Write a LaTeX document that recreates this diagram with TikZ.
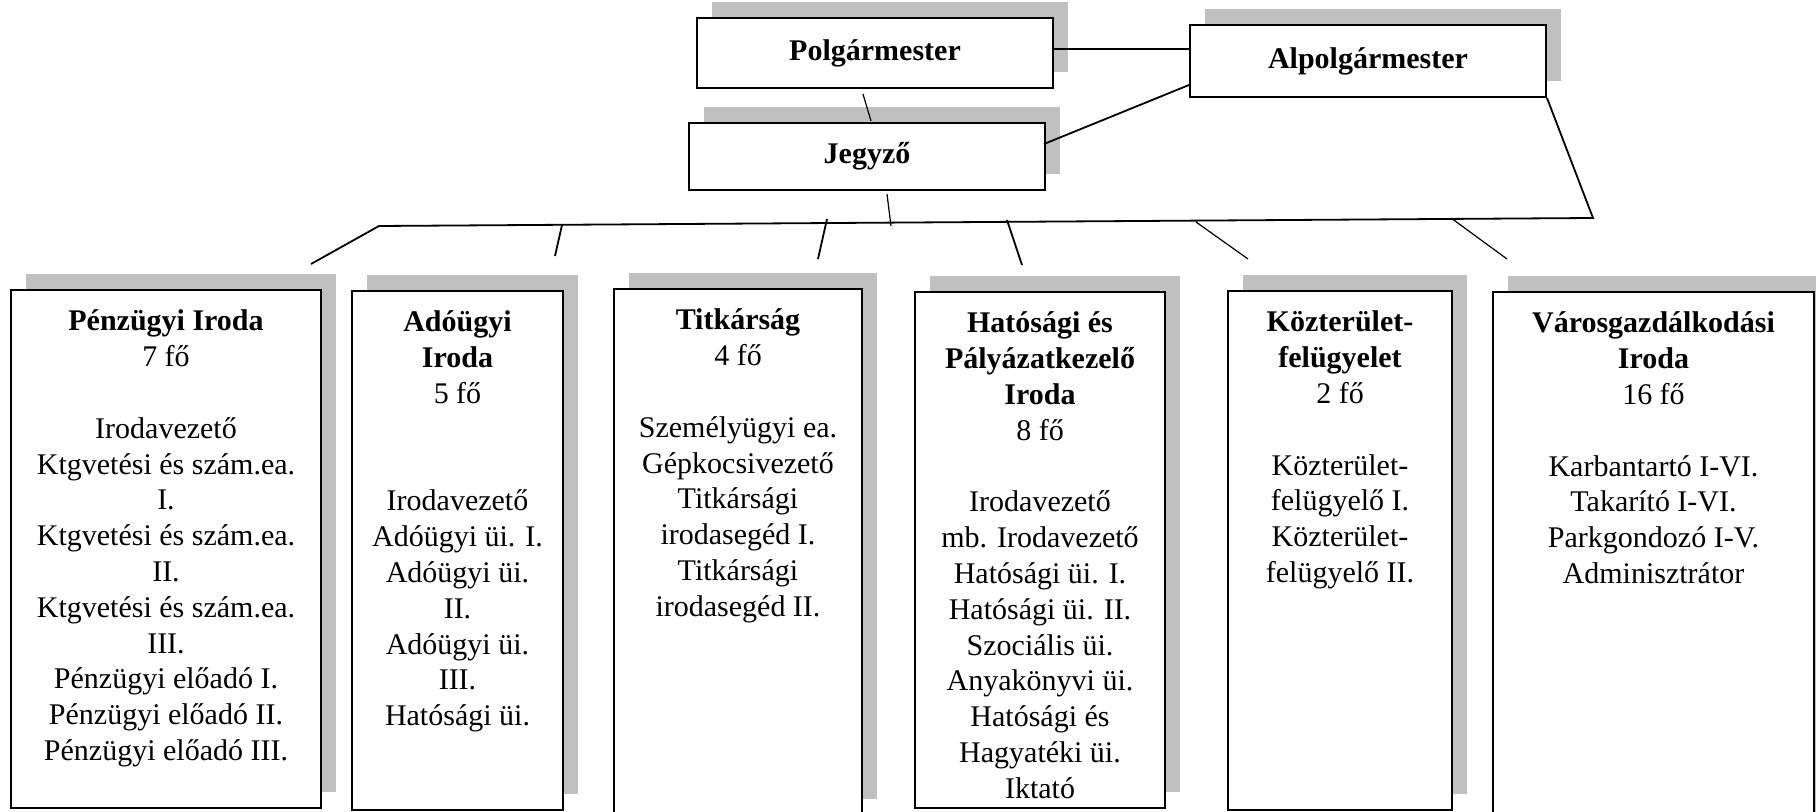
\documentclass[tikz,border=0pt]{standalone}
\usepackage{fontspec}
\setmainfont{Liberation Serif}
\usetikzlibrary{shadows,calc}
\definecolor{shadowgray}{RGB}{192,192,192}
\begin{document}
\begin{tikzpicture}[x=0.5pt,y=-0.5pt,
  box/.style={draw, line width=1pt, fill=white, inner sep=0pt,
    drop shadow={shadow xshift=7.5pt, shadow yshift=8pt, fill=shadowgray, opacity=1}},
  topbox/.style={box, minimum width=178pt, font=\fontsize{15}{18}\selectfont\bfseries},
  lbl/.style={anchor=north, inner sep=0pt, align=center, font=\fontsize{15}{17.9}\selectfont},
  conn/.style={line width=0.9pt},
  thinconn/.style={line width=0.6pt}]
\useasboundingbox (0,0) rectangle (1816,812);

% top boxes
\node[topbox, minimum height=35pt] (polg) at (875,53) {Polgármester};
\node[topbox, minimum height=36pt] (alp) at (1368,61) {Alpolgármester};
\node[topbox, minimum height=33.5pt] (jegy) at (867,156.5) {Jegyző};

% department boxes
\node[box, minimum width=155pt, minimum height=259pt] (penz) at (166,549) {};
\node[box, minimum width=105.5pt, minimum height=259.5pt] (ado) at (457.5,550.5) {};
\node[box, minimum width=124pt, minimum height=263pt] (titk) at (738,552) {};
\node[box, minimum width=125pt, minimum height=258pt] (hat) at (1040,550) {};
\node[box, minimum width=112pt, minimum height=259.5pt] (kozt) at (1340,550.5) {};
\node[box, minimum width=160.5pt, minimum height=269pt] (varos) at (1653.5,561) {};

% texts
\node[lbl] (penzt) at ([yshift=-8.2pt]penz.north) {\strut\textbf{Pénzügyi Iroda}\\7 fő\\[17.9pt]Irodavezető\\Ktgvetési és szám.ea.\\I.\\Ktgvetési és szám.ea.\\II.\\Ktgvetési és szám.ea.\\III.\\Pénzügyi előadó I.\\Pénzügyi előadó II.\\Pénzügyi előadó III.};
\node[lbl] (adot) at ([yshift=-8.2pt]ado.north) {\strut\textbf{Adóügyi}\\\textbf{Iroda}\\5 fő\\[35.8pt]Irodavezető\\Adóügyi üi. I.\\Adóügyi üi.\\II.\\Adóügyi üi.\\III.\\Hatósági üi.};
\node[lbl] (titkt) at ([yshift=-8.2pt]titk.north) {\strut\textbf{Titkárság}\\4 fő\\[17.9pt]Személyügyi ea.\\Gépkocsivezető\\Titkársági\\irodasegéd I.\\Titkársági\\irodasegéd II.};
\node[lbl] (hatt) at ([yshift=-8.2pt]hat.north) {\strut\textbf{Hatósági és}\\\textbf{Pályázatkezelő}\\\textbf{Iroda}\\8 fő\\[17.9pt]Irodavezető\\mb. Irodavezető\\Hatósági üi. I.\\Hatósági üi. II.\\Szociális üi.\\Anyakönyvi üi.\\Hatósági és\\Hagyatéki üi.\\Iktató};
\node[lbl] (koztt) at ([yshift=-8.2pt]kozt.north) {\strut\textbf{Közterület-}\\\textbf{felügyelet}\\2 fő\\[17.9pt]Közterület-\\felügyelő I.\\Közterület-\\felügyelő II.};
\node[lbl] (varost) at ([yshift=-8.2pt]varos.north) {\strut\textbf{Városgazdálkodási}\\\textbf{Iroda}\\16 fő\\[17.9pt]Karbantartó I-VI.\\Takarító I-VI.\\Parkgondozó I-V.\\Adminisztrátor};

% coordinates
\coordinate (busL) at (379,226);
\coordinate (busR) at (1593,218);
\coordinate (jbus) at (891,226);
\coordinate (tA) at (562,225);
\coordinate (tT) at (827,219);
\coordinate (tH) at (1007,220);
\coordinate (tK) at (1196,222);
\coordinate (tV) at (1451,218);

% connectors
\draw[conn] ([yshift=2pt]polg.east) -- ([yshift=6pt]alp.west);
\draw[thinconn] ([shift={(-12,5)}]polg.south) -- ([shift={(4,-1)}]jegy.north);
\draw[conn] ([yshift=-12pt]alp.west) -- ([shift={(-2,-12.5)}]jegy.east);
\draw[thinconn] ([shift={(20,3)}]jegy.south) -- (jbus);
\draw[conn] ([shift={(-11,-25)}]penz.north east) -- (busL) -- (busR) -- (alp.south east);
\draw[conn] (tA) -- ([shift={(-9,-34)}]ado.north east);
\draw[conn] (tT) -- ([shift={(-45,-29)}]titk.north east);
\draw[conn] (tH) -- ([shift={(-18,-26)}]hat.north);
\draw[thinconn] (tK) -- ([shift={(21,-31)}]kozt.north west);
\draw[thinconn] (tV) -- ([shift={(15,-32)}]varos.north west);
\end{tikzpicture}
\end{document}
